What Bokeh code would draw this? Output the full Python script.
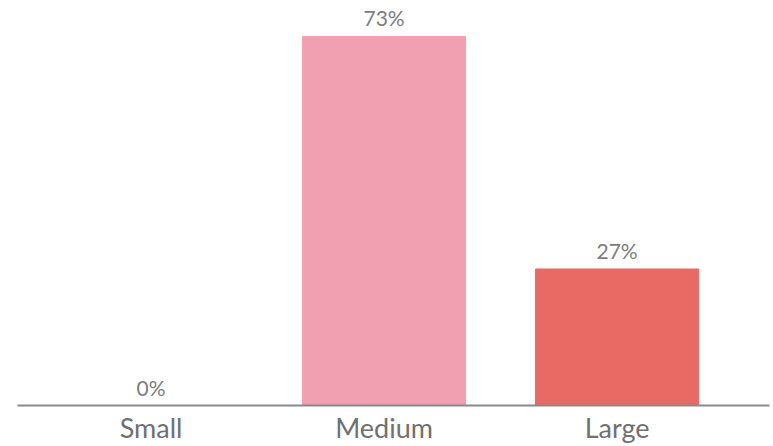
from bokeh.plotting import figure
from bokeh.models import Range1d, LinearAxis, FixedTicker, ColumnDataSource
from bokeh.core.properties import value
from bokeh.embed import file_html
from bokeh.resources import INLINE

# Share of responses by size
categories = ["Small", "Medium", "Large"]
shares = [0, 73, 27]
labels = ["0%", "73%", "27%"]
bar_colors = ["#F0A0B0", "#F0A0B0", "#E96A64"]

positions = list(range(len(categories)))

source = ColumnDataSource(dict(
    x=positions,
    top=shares,
    label=labels,
    color=bar_colors,
))

p = figure(
    width=773, height=446,
    output_backend="svg", toolbar_location=None,
    x_range=Range1d(-0.573, 2.654),
    y_range=Range1d(0, 80.1),
    min_border_left=17, min_border_right=4,
    min_border_top=0, min_border_bottom=0,
    x_axis_location=None, y_axis_location=None,
)
p.outline_line_color = None
p.grid.visible = False
p.background_fill_color = "white"
p.border_fill_color = "white"

p.vbar(x="x", top="top", bottom=0, width=0.70, color="color", source=source)

p.text(x="x", y="top", text="label", source=source,
       text_align="center", text_baseline="bottom", y_offset=-6,
       text_font_size="21px", text_color="#7c7c7c", text_font=value("Lato"))

axis = LinearAxis(
    ticker=FixedTicker(ticks=positions),
    major_label_overrides={i: c for i, c in enumerate(categories)},
    major_tick_line_color=None, minor_tick_line_color=None,
    axis_line_color="#8a8a8a", axis_line_width=2,
    major_label_text_font="Lato", major_label_text_font_size="27px",
    major_label_text_color="#707070", major_label_standoff=-1,
)
p.add_layout(axis, "below")

open("out.html", "w").write(file_html(p, INLINE))
